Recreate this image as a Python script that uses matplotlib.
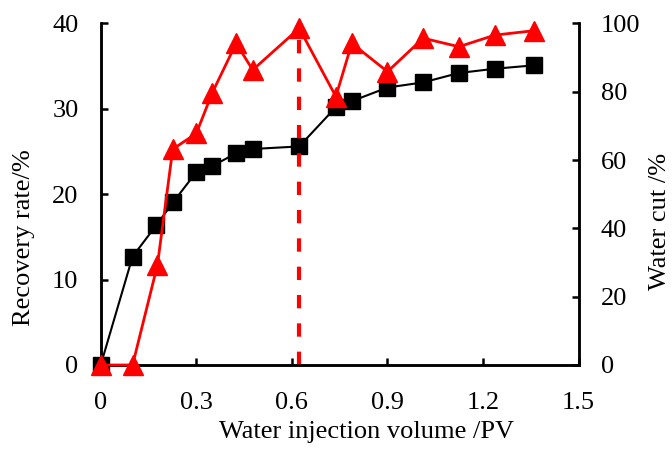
import matplotlib
matplotlib.use("Agg")
import matplotlib.pyplot as plt

# injection volume (PV), recovery rate (%), water cut (%)
pv = [0.0, 0.10, 0.175, 0.228, 0.30, 0.35, 0.425, 0.477, 0.623, 0.738, 0.788,
      0.90, 1.012, 1.124, 1.237, 1.36]
recovery = [0.0, 12.7, 16.4, 19.1, 22.6, 23.3, 24.8, 25.3, 25.6, 30.2, 30.9,
            32.5, 33.1, 34.2, 34.7, 35.1]
water_pv = [0.0, 0.10, 0.178, 0.226, 0.30, 0.35, 0.425, 0.477, 0.623, 0.738,
            0.788, 0.90, 1.012, 1.124, 1.237, 1.36]
water_cut = [0.0, 0.0, 29.3, 63.2, 67.8, 79.7, 94.2, 86.4, 98.6, 78.6, 94.2,
             85.9, 95.7, 93.2, 96.6, 97.9]
breakthrough_pv = 0.623
breakthrough_wc = 98.6

xticks = [0, 0.3, 0.6, 0.9, 1.2, 1.5]
xticklabels = ['0', '0.3', '0.6', '0.9', '1.2', '1.5']

plt.rcParams['font.family'] = ['Liberation Serif', 'DejaVu Serif']
FS = 19

fig = plt.figure(figsize=(6.72, 4.5), dpi=100)
ax = fig.add_axes([0.1499, 0.1889, 0.8611 - 0.1499, 0.9478 - 0.1889])
ax2 = ax.twinx()

ax.plot(pv, recovery, color='black', lw=1.5, marker='s', ms=11,
        clip_on=False, zorder=3)
ax2.plot(water_pv, water_cut, color='red', lw=2, marker='^', ms=14,
         clip_on=False, zorder=4)
ax2.plot([breakthrough_pv, breakthrough_pv], [0, breakthrough_wc], color='red',
         lw=3, dashes=(3.2, 3.6), zorder=2)

ax.set_xlim(0, 1.5)
ax.set_ylim(0, 40)
ax2.set_ylim(0, 100)
ax.set_xticks(xticks)
ax.set_xticklabels(xticklabels)
ax.set_yticks([0, 10, 20, 30, 40])
ax2.set_yticks([0, 20, 40, 60, 80, 100])

for a in (ax, ax2):
    a.spines['top'].set_visible(False)
    for s in a.spines.values():
        s.set_linewidth(1.8)
    a.tick_params(direction='in', length=5, width=1.8, labelsize=FS, pad=16)
ax.tick_params(axis='x', pad=19.5)

ax.set_xlabel('Water injection volume /PV', fontsize=FS)
ax.set_ylabel('Recovery rate/%', fontsize=FS)
ax2.set_ylabel('Water cut /%', fontsize=FS)

# label placement as in the original figure
ax.xaxis.set_label_coords(0.546, 0.027, transform=fig.transFigure)
ax.xaxis.label.set_va('baseline')
ax.yaxis.set_label_coords(0.0357, 0.473, transform=fig.transFigure)
ax.yaxis.label.set_va('center')
ax2.yaxis.set_label_coords(0.982, 0.507, transform=fig.transFigure)
ax2.yaxis.label.set_va('center')

ax2.set_zorder(ax.get_zorder() + 1)
ax2.patch.set_visible(False)

fig.savefig('out.png', dpi=100)
